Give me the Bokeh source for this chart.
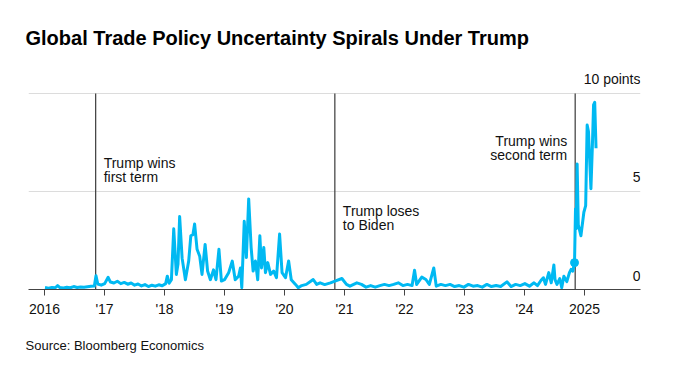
import pandas as pd
from bokeh.plotting import figure
from bokeh.models import Range1d, FixedTicker, Label, Title
from bokeh.embed import file_html
from bokeh.resources import INLINE

# ---------------- data ----------------
dates = [
    "2016-01-04", "2016-01-25", "2016-02-15", "2016-03-07", "2016-03-21", "2016-04-04",
    "2016-04-25", "2016-05-16", "2016-06-06", "2016-06-27", "2016-07-18", "2016-08-08",
    "2016-08-29", "2016-09-19", "2016-10-10", "2016-10-31", "2016-11-10", "2016-11-21",
    "2016-12-12", "2017-01-02", "2017-01-23", "2017-02-06", "2017-02-27", "2017-03-20",
    "2017-04-10", "2017-05-01", "2017-05-22", "2017-06-12", "2017-07-03", "2017-07-24",
    "2017-08-14", "2017-09-04", "2017-09-25", "2017-10-16", "2017-11-06", "2017-11-27",
    "2017-12-18", "2018-01-08", "2018-01-18", "2018-01-29", "2018-02-12", "2018-02-26",
    "2018-03-14", "2018-03-24", "2018-04-03", "2018-04-18", "2018-05-08", "2018-05-28",
    "2018-06-10", "2018-06-23", "2018-07-03", "2018-07-18", "2018-08-03", "2018-08-17",
    "2018-09-05", "2018-09-20", "2018-10-07", "2018-10-26", "2018-11-10", "2018-11-28",
    "2018-12-13", "2019-01-01", "2019-01-26", "2019-02-17", "2019-03-07", "2019-03-28",
    "2019-04-08", "2019-04-16", "2019-05-01", "2019-05-14", "2019-05-28", "2019-06-12",
    "2019-06-24", "2019-07-08", "2019-07-22", "2019-08-04", "2019-08-14", "2019-08-28",
    "2019-09-07", "2019-09-21", "2019-10-08", "2019-10-27", "2019-11-13", "2019-12-02",
    "2019-12-17", "2020-01-07", "2020-01-26", "2020-02-11", "2020-03-08", "2020-03-25",
    "2020-04-15", "2020-05-13", "2020-06-24", "2020-07-15", "2020-08-05", "2020-09-02",
    "2020-10-07", "2020-11-04", "2020-12-16", "2021-01-13", "2021-02-03", "2021-03-17",
    "2021-04-14", "2021-05-12", "2021-06-09", "2021-07-07", "2021-08-04", "2021-09-01",
    "2021-09-29", "2021-10-27", "2021-11-24", "2021-12-22", "2022-01-19", "2022-02-16",
    "2022-03-03", "2022-03-16", "2022-04-16", "2022-05-11", "2022-06-01", "2022-06-28",
    "2022-07-13", "2022-08-10", "2022-09-07", "2022-10-05", "2022-11-02", "2022-11-30",
    "2022-12-28", "2023-01-25", "2023-02-22", "2023-03-22", "2023-04-19", "2023-05-17",
    "2023-06-14", "2023-07-12", "2023-08-09", "2023-09-16", "2023-10-11", "2023-11-08",
    "2023-12-06", "2024-01-03", "2024-01-31", "2024-02-28", "2024-03-20", "2024-04-10",
    "2024-04-25", "2024-05-08", "2024-05-28", "2024-06-12", "2024-06-28", "2024-07-05",
    "2024-07-17", "2024-08-03", "2024-08-15", "2024-08-28", "2024-09-15", "2024-10-01",
    "2024-10-11", "2024-10-22", "2024-11-01", "2024-11-07", "2024-11-11", "2024-11-17",
    "2024-11-24", "2024-12-10", "2024-12-28", "2025-01-08", "2025-01-17", "2025-01-25",
    "2025-02-09", "2025-02-18", "2025-02-25", "2025-03-04", "2025-03-12",
]
uncertainty = [
    0.10, 0.07, 0.10, 0.09, 0.20, 0.10,
    0.08, 0.11, 0.09, 0.15, 0.10, 0.13,
    0.11, 0.14, 0.16, 0.18, 0.70, 0.28,
    0.22, 0.30, 0.62, 0.38, 0.33, 0.42,
    0.30, 0.36, 0.27, 0.33, 0.22, 0.28,
    0.18, 0.25, 0.15, 0.22, 0.17, 0.24,
    0.19, 0.30, 0.68, 0.32, 0.50, 3.10,
    0.77, 1.30, 3.72, 1.60, 0.50, 1.45,
    2.74, 2.80, 3.34, 2.05, 1.70, 0.77,
    2.30, 0.94, 0.50, 1.00, 0.50, 2.05,
    0.43, 0.50, 0.85, 1.45, 0.50, 0.68,
    1.10, 0.09, 3.48, 1.63, 4.62, 2.14,
    0.94, 1.45, 0.50, 2.74, 1.10, 2.14,
    0.86, 1.37, 0.77, 0.94, 0.60, 2.83,
    0.86, 0.60, 1.45, 0.50, 0.26, 0.09,
    0.20, 0.26, 0.51, 0.26, 0.34, 0.25,
    0.34, 0.43, 0.56, 0.26, 0.17, 0.34,
    0.26, 0.12, 0.20, 0.12, 0.20, 0.26,
    0.20, 0.26, 0.34, 0.20, 0.26, 0.20,
    0.98, 0.26, 0.63, 0.51, 0.26, 1.10,
    0.17, 0.26, 0.20, 0.26, 0.15, 0.20,
    0.12, 0.26, 0.17, 0.20, 0.12, 0.26,
    0.15, 0.20, 0.15, 0.39, 0.15, 0.26,
    0.20, 0.30, 0.17, 0.34, 0.20, 0.46,
    0.60, 0.26, 0.86, 0.34, 1.25, 0.50,
    0.26, 0.56, 0.09, 0.68, 0.40, 0.86,
    1.03, 0.94, 1.37, 4.10, 3.10, 6.40,
    3.30, 2.74, 3.94, 4.28, 8.39, 8.05,
    5.14, 7.36, 9.42, 9.55, 7.20,
]

# highlighted point just before the 2024 election
dot_date = ["2024-11-01"]
dot_value = [1.37]

# election markers
event_dates = ["2016-11-08", "2020-11-03", "2024-11-05"]
event_lines = [["Trump wins", "first term"], ["Trump loses", "to Biden"], ["Trump wins", "second term"]]
event_text_y = [6.86, 4.41, 7.98]
event_side = ["right", "right", "left"]

# axes
x_tick_years = [2016, 2017, 2018, 2019, 2020, 2021, 2022, 2023, 2024, 2025]
x_tick_labels = ["2016", "'17", "'18", "'19", "'20", "'21", "'22", "'23", "'24", "2025"]
y_ticks = [0, 5, 10]
y_tick_labels = ["0", "5", "10 points"]

title_text = "Global Trade Policy Uncertainty Spirals Under Trump"
source_text = "Source: Bloomberg Economics"


def dec_year(s):
    d = pd.Timestamp(s)
    start = pd.Timestamp(d.year, 1, 1)
    end = pd.Timestamp(d.year + 1, 1, 1)
    return d.year + (d - start) / (end - start)


xs = [dec_year(d) for d in dates]

FONT = "Liberation Sans"
BLUE = "#00B9F2"

X_START, X_END = 2015.733, 2025.933
Y_END = 11.22  # head-room above the top gridline for the "10 points" label

p = figure(
    width=660, height=371,
    output_backend="svg", toolbar_location=None,
    x_range=Range1d(X_START, X_END), y_range=Range1d(0, Y_END),
    min_border_left=28, min_border_right=20, min_border_top=69, min_border_bottom=82,
    background_fill_color="white", border_fill_color="white",
)
p.outline_line_color = None
p.xgrid.visible = False
p.ygrid.ticker = FixedTicker(ticks=y_ticks)
p.ygrid.grid_line_color = "#dcdcdc"
p.ygrid.grid_line_width = 1
p.yaxis.visible = False

p.title = Title(
    text=title_text, align="left", offset=-3, standoff=42,
    text_font=FONT, text_font_size="20px", text_font_style="bold", text_color="#000000",
)
p.add_layout(Title(
    text=source_text, align="left", offset=-3, standoff=33,
    text_font=FONT, text_font_size="13px", text_font_style="normal", text_color="#111111",
), "below")

ax = p.xaxis[0]
ax.ticker = FixedTicker(ticks=x_tick_years)
ax.major_label_overrides = {y: lab for y, lab in zip(x_tick_years, x_tick_labels)}
ax.axis_line_color = "#444444"
ax.axis_line_width = 1
ax.major_tick_line_color = "#444444"
ax.major_tick_out = 6
ax.major_tick_in = 0
ax.minor_tick_line_color = None
ax.major_label_standoff = 5
ax.major_label_text_font = FONT
ax.major_label_text_font_size = "14px"
ax.major_label_text_color = "#111111"

ex = [dec_year(d) for d in event_dates]
p.segment(x0=ex, y0=[min(y_ticks)] * len(ex), x1=ex, y1=[max(y_ticks)] * len(ex),
          line_color="#3a3a3a", line_width=1.2)

p.line(xs, uncertainty, line_color=BLUE, line_width=3, line_join="round")
p.scatter([dec_year(d) for d in dot_date], dot_value, size=8, color=BLUE, line_color=BLUE)

for x, lines, ty, side in zip(ex, event_lines, event_text_y, event_side):
    for i, txt in enumerate(lines):
        p.add_layout(Label(
            x=x, y=ty, text=txt,
            x_offset=8 if side == "right" else -8,
            y_offset=-14 * i,
            text_align="left" if side == "right" else "right",
            text_baseline="top", text_font=FONT, text_font_size="14px",
            text_color="#111111",
        ))

for v, lab in zip(y_ticks, y_tick_labels):
    p.add_layout(Label(
        x=X_END, y=v, text=lab, y_offset=14,
        text_align="right", text_baseline="alphabetic",
        text_font=FONT, text_font_size="14px", text_color="#111111",
    ))

open("out.html", "w").write(file_html(p, INLINE))
